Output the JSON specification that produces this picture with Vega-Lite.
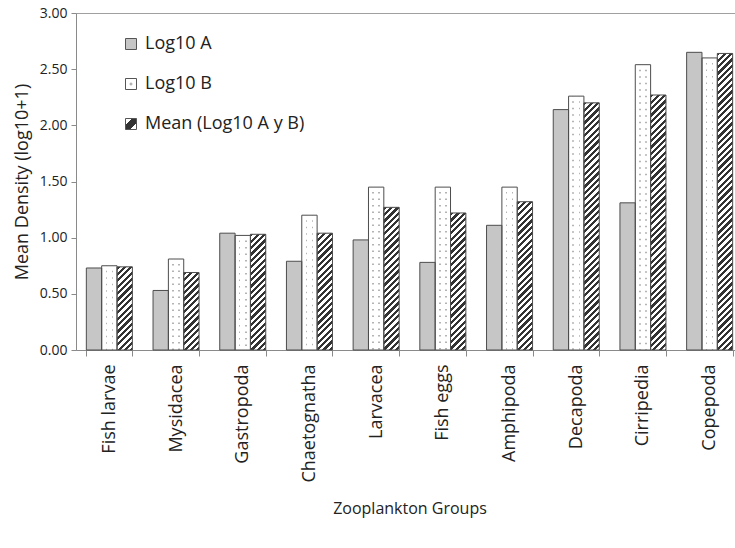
{
  "$schema": "https://vega.github.io/schema/vega-lite/v6.json",
  "width": 667,
  "height": 337,
  "autosize": "none",
  "padding": {"left": 76, "top": 13, "right": 0, "bottom": 198},
  "background": "white",
  "config": {
    "font": "Open Sans",
    "view": {"stroke": "#a0a0a0", "strokeWidth": 1},
    "axis": {"grid": false, "domainColor": "#8a8a8a", "tickColor": "#8a8a8a", "labelColor": "#222", "titleColor": "#222", "titleFontWeight": "normal"}
  },
  "params": [
    {"name": "hatch", "value": [{"offset":0,"color":"#333"},{"offset":0.01,"color":"#333"},{"offset":0.01,"color":"#fff"},{"offset":0.02,"color":"#fff"},{"offset":0.02,"color":"#333"},{"offset":0.03,"color":"#333"},{"offset":0.03,"color":"#fff"},{"offset":0.04,"color":"#fff"},{"offset":0.04,"color":"#333"},{"offset":0.05,"color":"#333"},{"offset":0.05,"color":"#fff"},{"offset":0.06,"color":"#fff"},{"offset":0.06,"color":"#333"},{"offset":0.07,"color":"#333"},{"offset":0.07,"color":"#fff"},{"offset":0.08,"color":"#fff"},{"offset":0.08,"color":"#333"},{"offset":0.09,"color":"#333"},{"offset":0.09,"color":"#fff"},{"offset":0.1,"color":"#fff"},{"offset":0.1,"color":"#333"},{"offset":0.11,"color":"#333"},{"offset":0.11,"color":"#fff"},{"offset":0.12,"color":"#fff"},{"offset":0.12,"color":"#333"},{"offset":0.13,"color":"#333"},{"offset":0.13,"color":"#fff"},{"offset":0.14,"color":"#fff"},{"offset":0.14,"color":"#333"},{"offset":0.15,"color":"#333"},{"offset":0.15,"color":"#fff"},{"offset":0.16,"color":"#fff"},{"offset":0.16,"color":"#333"},{"offset":0.17,"color":"#333"},{"offset":0.17,"color":"#fff"},{"offset":0.18,"color":"#fff"},{"offset":0.18,"color":"#333"},{"offset":0.19,"color":"#333"},{"offset":0.19,"color":"#fff"},{"offset":0.2,"color":"#fff"},{"offset":0.2,"color":"#333"},{"offset":0.21,"color":"#333"},{"offset":0.21,"color":"#fff"},{"offset":0.22,"color":"#fff"},{"offset":0.22,"color":"#333"},{"offset":0.23,"color":"#333"},{"offset":0.23,"color":"#fff"},{"offset":0.24,"color":"#fff"},{"offset":0.24,"color":"#333"},{"offset":0.25,"color":"#333"},{"offset":0.25,"color":"#fff"},{"offset":0.26,"color":"#fff"},{"offset":0.26,"color":"#333"},{"offset":0.27,"color":"#333"},{"offset":0.27,"color":"#fff"},{"offset":0.28,"color":"#fff"},{"offset":0.28,"color":"#333"},{"offset":0.29,"color":"#333"},{"offset":0.29,"color":"#fff"},{"offset":0.3,"color":"#fff"},{"offset":0.3,"color":"#333"},{"offset":0.31,"color":"#333"},{"offset":0.31,"color":"#fff"},{"offset":0.32,"color":"#fff"},{"offset":0.32,"color":"#333"},{"offset":0.33,"color":"#333"},{"offset":0.33,"color":"#fff"},{"offset":0.34,"color":"#fff"},{"offset":0.34,"color":"#333"},{"offset":0.35,"color":"#333"},{"offset":0.35,"color":"#fff"},{"offset":0.36,"color":"#fff"},{"offset":0.36,"color":"#333"},{"offset":0.37,"color":"#333"},{"offset":0.37,"color":"#fff"},{"offset":0.38,"color":"#fff"},{"offset":0.38,"color":"#333"},{"offset":0.39,"color":"#333"},{"offset":0.39,"color":"#fff"},{"offset":0.4,"color":"#fff"},{"offset":0.4,"color":"#333"},{"offset":0.41,"color":"#333"},{"offset":0.41,"color":"#fff"},{"offset":0.42,"color":"#fff"},{"offset":0.42,"color":"#333"},{"offset":0.43,"color":"#333"},{"offset":0.43,"color":"#fff"},{"offset":0.44,"color":"#fff"},{"offset":0.44,"color":"#333"},{"offset":0.45,"color":"#333"},{"offset":0.45,"color":"#fff"},{"offset":0.46,"color":"#fff"},{"offset":0.46,"color":"#333"},{"offset":0.47,"color":"#333"},{"offset":0.47,"color":"#fff"},{"offset":0.48,"color":"#fff"},{"offset":0.48,"color":"#333"},{"offset":0.49,"color":"#333"},{"offset":0.49,"color":"#fff"},{"offset":0.5,"color":"#fff"},{"offset":0.5,"color":"#333"},{"offset":0.51,"color":"#333"},{"offset":0.51,"color":"#fff"},{"offset":0.52,"color":"#fff"},{"offset":0.52,"color":"#333"},{"offset":0.53,"color":"#333"},{"offset":0.53,"color":"#fff"},{"offset":0.54,"color":"#fff"},{"offset":0.54,"color":"#333"},{"offset":0.55,"color":"#333"},{"offset":0.55,"color":"#fff"},{"offset":0.56,"color":"#fff"},{"offset":0.56,"color":"#333"},{"offset":0.57,"color":"#333"},{"offset":0.57,"color":"#fff"},{"offset":0.58,"color":"#fff"},{"offset":0.58,"color":"#333"},{"offset":0.59,"color":"#333"},{"offset":0.59,"color":"#fff"},{"offset":0.6,"color":"#fff"},{"offset":0.6,"color":"#333"},{"offset":0.61,"color":"#333"},{"offset":0.61,"color":"#fff"},{"offset":0.62,"color":"#fff"},{"offset":0.62,"color":"#333"},{"offset":0.63,"color":"#333"},{"offset":0.63,"color":"#fff"},{"offset":0.64,"color":"#fff"},{"offset":0.64,"color":"#333"},{"offset":0.65,"color":"#333"},{"offset":0.65,"color":"#fff"},{"offset":0.66,"color":"#fff"},{"offset":0.66,"color":"#333"},{"offset":0.67,"color":"#333"},{"offset":0.67,"color":"#fff"},{"offset":0.68,"color":"#fff"},{"offset":0.68,"color":"#333"},{"offset":0.69,"color":"#333"},{"offset":0.69,"color":"#fff"},{"offset":0.7,"color":"#fff"},{"offset":0.7,"color":"#333"},{"offset":0.71,"color":"#333"},{"offset":0.71,"color":"#fff"},{"offset":0.72,"color":"#fff"},{"offset":0.72,"color":"#333"},{"offset":0.73,"color":"#333"},{"offset":0.73,"color":"#fff"},{"offset":0.74,"color":"#fff"},{"offset":0.74,"color":"#333"},{"offset":0.75,"color":"#333"},{"offset":0.75,"color":"#fff"},{"offset":0.76,"color":"#fff"},{"offset":0.76,"color":"#333"},{"offset":0.77,"color":"#333"},{"offset":0.77,"color":"#fff"},{"offset":0.78,"color":"#fff"},{"offset":0.78,"color":"#333"},{"offset":0.79,"color":"#333"},{"offset":0.79,"color":"#fff"},{"offset":0.8,"color":"#fff"},{"offset":0.8,"color":"#333"},{"offset":0.81,"color":"#333"},{"offset":0.81,"color":"#fff"},{"offset":0.82,"color":"#fff"},{"offset":0.82,"color":"#333"},{"offset":0.83,"color":"#333"},{"offset":0.83,"color":"#fff"},{"offset":0.84,"color":"#fff"},{"offset":0.84,"color":"#333"},{"offset":0.85,"color":"#333"},{"offset":0.85,"color":"#fff"},{"offset":0.86,"color":"#fff"},{"offset":0.86,"color":"#333"},{"offset":0.87,"color":"#333"},{"offset":0.87,"color":"#fff"},{"offset":0.88,"color":"#fff"},{"offset":0.88,"color":"#333"},{"offset":0.89,"color":"#333"},{"offset":0.89,"color":"#fff"},{"offset":0.9,"color":"#fff"},{"offset":0.9,"color":"#333"},{"offset":0.91,"color":"#333"},{"offset":0.91,"color":"#fff"},{"offset":0.92,"color":"#fff"},{"offset":0.92,"color":"#333"},{"offset":0.93,"color":"#333"},{"offset":0.93,"color":"#fff"},{"offset":0.94,"color":"#fff"},{"offset":0.94,"color":"#333"},{"offset":0.95,"color":"#333"},{"offset":0.95,"color":"#fff"},{"offset":0.96,"color":"#fff"},{"offset":0.96,"color":"#333"},{"offset":0.97,"color":"#333"},{"offset":0.97,"color":"#fff"},{"offset":0.98,"color":"#fff"},{"offset":0.98,"color":"#333"},{"offset":0.99,"color":"#333"},{"offset":0.99,"color":"#fff"},{"offset":1,"color":"#fff"}]}
  ],
  "data": {
    "values": [
      {"group": "Fish larvae", "series": "Log10 A", "density": 0.73},
      {"group": "Fish larvae", "series": "Log10 B", "density": 0.75},
      {"group": "Fish larvae", "series": "Mean (Log10 A y B)", "density": 0.74},
      {"group": "Mysidacea", "series": "Log10 A", "density": 0.53},
      {"group": "Mysidacea", "series": "Log10 B", "density": 0.81},
      {"group": "Mysidacea", "series": "Mean (Log10 A y B)", "density": 0.69},
      {"group": "Gastropoda", "series": "Log10 A", "density": 1.04},
      {"group": "Gastropoda", "series": "Log10 B", "density": 1.02},
      {"group": "Gastropoda", "series": "Mean (Log10 A y B)", "density": 1.03},
      {"group": "Chaetognatha", "series": "Log10 A", "density": 0.79},
      {"group": "Chaetognatha", "series": "Log10 B", "density": 1.2},
      {"group": "Chaetognatha", "series": "Mean (Log10 A y B)", "density": 1.04},
      {"group": "Larvacea", "series": "Log10 A", "density": 0.98},
      {"group": "Larvacea", "series": "Log10 B", "density": 1.45},
      {"group": "Larvacea", "series": "Mean (Log10 A y B)", "density": 1.27},
      {"group": "Fish eggs", "series": "Log10 A", "density": 0.78},
      {"group": "Fish eggs", "series": "Log10 B", "density": 1.45},
      {"group": "Fish eggs", "series": "Mean (Log10 A y B)", "density": 1.22},
      {"group": "Amphipoda", "series": "Log10 A", "density": 1.11},
      {"group": "Amphipoda", "series": "Log10 B", "density": 1.45},
      {"group": "Amphipoda", "series": "Mean (Log10 A y B)", "density": 1.32},
      {"group": "Decapoda", "series": "Log10 A", "density": 2.14},
      {"group": "Decapoda", "series": "Log10 B", "density": 2.26},
      {"group": "Decapoda", "series": "Mean (Log10 A y B)", "density": 2.2},
      {"group": "Cirripedia", "series": "Log10 A", "density": 1.31},
      {"group": "Cirripedia", "series": "Log10 B", "density": 2.54},
      {"group": "Cirripedia", "series": "Mean (Log10 A y B)", "density": 2.27},
      {"group": "Copepoda", "series": "Log10 A", "density": 2.65},
      {"group": "Copepoda", "series": "Log10 B", "density": 2.6},
      {"group": "Copepoda", "series": "Mean (Log10 A y B)", "density": 2.64}
    ]
  },
  "encoding": {
    "x": {
      "field": "group",
      "type": "nominal",
      "scale": {"domain": ["Fish larvae", "Mysidacea", "Gastropoda", "Chaetognatha", "Larvacea", "Fish eggs", "Amphipoda", "Decapoda", "Cirripedia", "Copepoda"], "paddingInner": 0.31, "paddingOuter": 0.155},
      "axis": {"title": "Zooplankton Groups", "titleFontSize": 16, "titleY": 158, "titleBaseline": "middle", "labelAngle": -90, "labelFontSize": 18, "labelPadding": 8, "tickSize": 6, "tickBand": "extent"}
    },
    "xOffset": {
      "field": "series",
      "type": "nominal",
      "scale": {"domain": ["Log10 A", "Log10 B", "Mean (Log10 A y B)"], "paddingInner": 0, "paddingOuter": 0}
    },
    "y": {
      "field": "density",
      "type": "quantitative",
      "scale": {"domain": [0, 3], "nice": false},
      "axis": {"title": "Mean Density (log10+1)", "titleFontSize": 18, "titleX": -54, "titleBaseline": "middle", "values": [0, 0.5, 1, 1.5, 2, 2.5, 3], "format": ".2f", "labelFontSize": 14, "tickSize": 5, "labelPadding": 4}
    }
  },
  "layer": [
    {
      "mark": {"type": "bar", "strokeWidth": 0},
      "encoding": {
        "color": {
          "field": "series",
          "type": "nominal",
          "scale": {
            "domain": ["Log10 A", "Log10 B", "Mean (Log10 A y B)"],
            "range": [
              "#c6c6c6",
              {"expr": "{gradient:'radial',x1:0.5,y1:0.5,r1:0,x2:0.5,y2:0.5,r2:0.5,stops:[{offset:0,color:'#999'},{offset:0.22,color:'#999'},{offset:0.22,color:'#fff'},{offset:1,color:'#fff'}]}"},
              {"expr": "{gradient:'linear',x1:0,y1:0,x2:1,y2:1,stops:[{offset:0,color:'#fff'},{offset:0.3,color:'#fff'},{offset:0.3,color:'#333'},{offset:0.7,color:'#333'},{offset:0.7,color:'#fff'},{offset:1,color:'#fff'}]}"}
            ]
          },
          "legend": {
            "title": null,
            "orient": "none",
            "legendX": 46,
            "legendY": 22,
            "direction": "vertical",
            "padding": 0,
            "symbolType": "square",
            "symbolSize": 121,
            "symbolStrokeColor": "#555",
            "symbolStrokeWidth": 1,
            "symbolOpacity": 1,
            "labelFontSize": 18,
            "labelColor": "#222",
            "labelOffset": 5,
            "rowPadding": 22,
            "labelLimit": 300
          }
        }
      }
    },
    {
      "transform": [{"filter": "datum.series === 'Log10 B'"}],
      "mark": {"type": "bar", "strokeWidth": 0, "fill": {"gradient": "linear", "x1": 0, "y1": 0, "x2": 1, "y2": 0, "stops": [{"offset": 0, "color": "#fff"}, {"offset": 0.25, "color": "#fff"}, {"offset": 0.25, "color": "#b4b4b4"}, {"offset": 0.35, "color": "#b4b4b4"}, {"offset": 0.35, "color": "#fff"}, {"offset": 0.65, "color": "#fff"}, {"offset": 0.65, "color": "#b4b4b4"}, {"offset": 0.75, "color": "#b4b4b4"}, {"offset": 0.75, "color": "#fff"}, {"offset": 1, "color": "#fff"}]}}
    },
    {
      "transform": [{"filter": "datum.series === 'Log10 B'"}],
      "mark": {"type": "rule", "stroke": "#ffffff", "strokeWidth": 15, "strokeDash": [5, 1.5], "strokeCap": "butt"},
      "encoding": {
        "y2": {"datum": 0}
      }
    },
    {
      "transform": [{"filter": "datum.series === 'Mean (Log10 A y B)'"}],
      "mark": {"type": "bar", "strokeWidth": 0, "fill": {"expr": "{gradient:'linear',x1:0,y1:0,x2:320*15.34/(235.3+pow(scale('y',0)-scale('y',datum.density),2)),y2:320*(scale('y',0)-scale('y',datum.density))/(235.3+pow(scale('y',0)-scale('y',datum.density),2)),stops:hatch}"}}
    },
    {
      "mark": {"type": "bar", "fillOpacity": 0, "stroke": "#4d4d4d", "strokeWidth": 1}
    }
  ]
}
